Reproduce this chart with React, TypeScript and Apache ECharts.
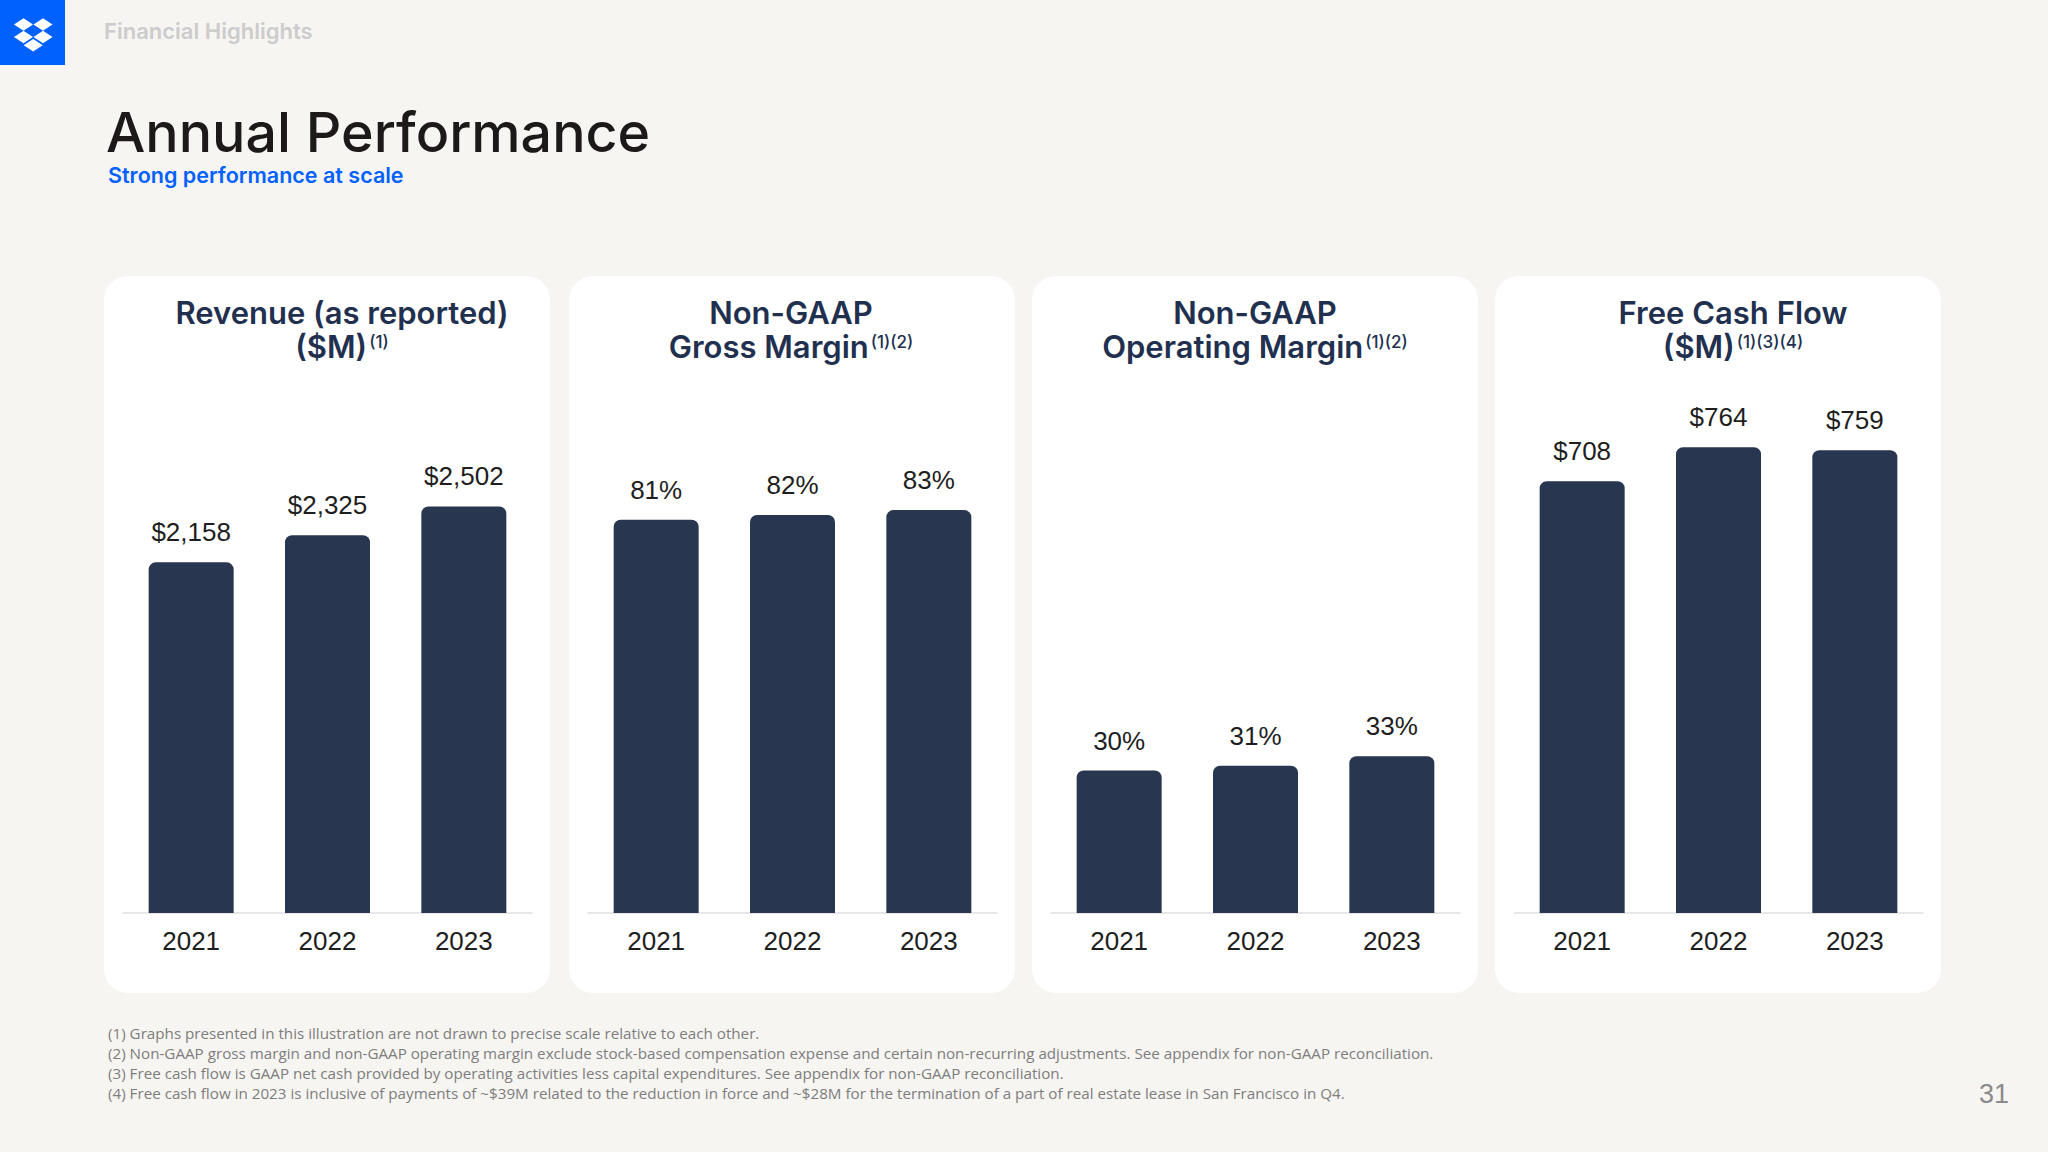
import React, { useEffect, useRef } from 'react';
import * as echarts from 'echarts';

// ---- data ----
const years = ['2021', '2022', '2023'];
const revenue = [2158, 2325, 2502];
const grossMargin = [81, 82, 83];
const operatingMargin = [30, 31, 33];
const freeCashFlow = [708, 764, 759];

const panelTitles = [
  'Revenue (as reported)\n($M){s|(1)}',
  'Non-GAAP\nGross Margin{s|(1)(2)}',
  'Non-GAAP\nOperating Margin{s|(1)(2)}',
  'Free Cash Flow\n($M){s|(1)(3)(4)}',
];

const footnotes = [
  '(1) Graphs presented in this illustration are not drawn to precise scale relative to each other.',
  '(2) Non-GAAP gross margin and non-GAAP operating margin exclude stock-based compensation expense and certain non-recurring adjustments. See appendix for non-GAAP reconciliation.',
  '(3) Free cash flow is GAAP net cash provided by operating activities less capital expenditures. See appendix for non-GAAP reconciliation.',
  '(4) Free cash flow in 2023 is inclusive of payments of ~$39M related to the reduction in force and ~$28M for the termination of a part of real estate lease in San Francisco in Q4.',
];

const headerLabel = 'Financial Highlights';
const pageTitle = 'Annual Performance';
const pageSubtitle = 'Strong performance at scale';
const pageNumber = '31';

// ---- layout / style ----
const CARD_X = [104, 569, 1032, 1495];
const CARD_W = 446;
const CARD_Y = 276;
const CARD_H = 717;
const TITLE_X = [342, 791, 1255, 1733];
const GRID_TOP = 413;
const GRID_H = 500;
const AXIS_MAX = [3077, 103, 105.3, 820];

const BAR = '#28364f';
const NAVY = '#223050';
const INK = '#1e1e1e';
const LABEL_FONT = "'Liberation Sans', Arial, sans-serif";
const HEAD_FONT = "Inter, 'Noto Sans', sans-serif";
const NOTE_FONT = "'Open Sans', 'Liberation Sans', sans-serif";

const formatters: Array<(v: number) => string> = [
  (v) => '$' + v.toLocaleString('en-US'),
  (v) => v + '%',
  (v) => v + '%',
  (v) => '$' + v,
];

const panelValues = [revenue, grossMargin, operatingMargin, freeCashFlow];

function diamond(cx: number, cy: number, hw: number, hh: number) {
  return {
    type: 'polygon',
    shape: { points: [[cx, cy - hh], [cx + hw, cy], [cx, cy + hh], [cx - hw, cy]] },
    style: { fill: '#ffffff' },
    z: 10,
  };
}

export default function App() {
  const ref = useRef<HTMLDivElement>(null);

  useEffect(() => {
    if (!ref.current) return;
    const chart = echarts.init(ref.current, undefined, { renderer: 'svg' });

    const grids = CARD_X.map((x) => ({
      left: x + 19,
      top: GRID_TOP,
      width: CARD_W - 37,
      height: GRID_H,
      containLabel: false,
    }));

    const xAxes = CARD_X.map((_, i) => ({
      type: 'category',
      gridIndex: i,
      data: years,
      axisLine: { show: true, lineStyle: { color: '#e0e0e0', width: 1.5 } },
      axisTick: { show: false },
      axisLabel: {
        margin: 15,
        fontSize: 26,
        color: INK,
        fontFamily: LABEL_FONT,
      },
    }));

    const yAxes = CARD_X.map((_, i) => ({
      type: 'value',
      gridIndex: i,
      min: 0,
      max: AXIS_MAX[i],
      show: false,
      splitLine: { show: false },
    }));

    const series = panelValues.map((vals, i) => ({
      type: 'bar',
      xAxisIndex: i,
      yAxisIndex: i,
      data: vals,
      barWidth: 85,
      itemStyle: { color: BAR, borderRadius: [7, 7, 0, 0] },
      label: {
        show: true,
        position: 'top',
        distance: 17,
        fontSize: 26,
        color: INK,
        fontFamily: LABEL_FONT,
        formatter: (p: any) => formatters[i](p.value as number),
      },
      emphasis: { disabled: true },
    }));

    const titles = panelTitles.map((t, i) => ({
      text: t,
      left: TITLE_X[i],
      top: 295,
      padding: 0,
      textAlign: 'center',
      textStyle: {
        fontFamily: HEAD_FONT,
        fontSize: 31,
        fontWeight: 600,
        color: NAVY,
        lineHeight: 34,
        rich: {
          s: {
            fontFamily: HEAD_FONT,
            fontSize: 17,
            fontWeight: 500,
            color: NAVY,
            lineHeight: 30,
            padding: [4, 0, 0, 2],
            verticalAlign: 'top',
          },
        },
      },
    }));

    const cards = CARD_X.map((x) => ({
      type: 'rect',
      shape: { x, y: CARD_Y, width: CARD_W, height: CARD_H, r: 24 },
      style: { fill: '#ffffff' },
      z: -5,
      silent: true,
    }));

    const footTexts = footnotes.map((f, i) => ({
      type: 'text',
      x: 108,
      y: 1033 + i * 20,
      style: {
        text: f,
        fill: '#7d7d7d',
        fontSize: 15.2,
        fontFamily: NOTE_FONT,
        textAlign: 'left',
        textVerticalAlign: 'middle',
      },
    }));

    chart.setOption({
      animation: false,
      backgroundColor: '#f7f5f2',
      title: titles,
      grid: grids,
      xAxis: xAxes,
      yAxis: yAxes,
      series,
      graphic: [
        ...cards,
        {
          type: 'rect',
          shape: { x: 0, y: 0, width: 65, height: 65 },
          style: { fill: '#0061fe' },
          z: 5,
        },
        diamond(23.5, 24.5, 9.5, 6.3),
        diamond(43, 24.5, 9.5, 6.3),
        diamond(23.5, 37, 9.5, 6.3),
        diamond(43, 37, 9.5, 6.3),
        diamond(33.2, 45.3, 9.5, 6.3),
        {
          type: 'text',
          x: 104,
          y: 31,
          style: {
            text: headerLabel,
            fill: '#cccccc',
            fontSize: 22,
            fontWeight: 600,
            fontFamily: HEAD_FONT,
            textAlign: 'left',
            textVerticalAlign: 'middle',
          },
        },
        {
          type: 'text',
          x: 106,
          y: 131,
          style: {
            text: pageTitle,
            fill: '#1e1919',
            fontSize: 55.5,
            fontWeight: 500,
            fontFamily: HEAD_FONT,
            textAlign: 'left',
            textVerticalAlign: 'middle',
          },
        },
        {
          type: 'text',
          x: 108,
          y: 175,
          style: {
            text: pageSubtitle,
            fill: '#0061fe',
            fontSize: 21.5,
            fontWeight: 600,
            fontFamily: HEAD_FONT,
            textAlign: 'left',
            textVerticalAlign: 'middle',
          },
        },
        ...footTexts,
        {
          type: 'text',
          x: 2009,
          y: 1094,
          style: {
            text: pageNumber,
            fill: '#8a8a8a',
            fontSize: 27,
            fontFamily: LABEL_FONT,
            textAlign: 'right',
            textVerticalAlign: 'middle',
          },
        },
      ],
    });

    return () => {
      chart.dispose();
    };
  }, []);

  return (
    <div
      ref={ref}
      style={{ position: 'fixed', left: 0, top: 0, width: 2048, height: 1152 }}
    />
  );
}
